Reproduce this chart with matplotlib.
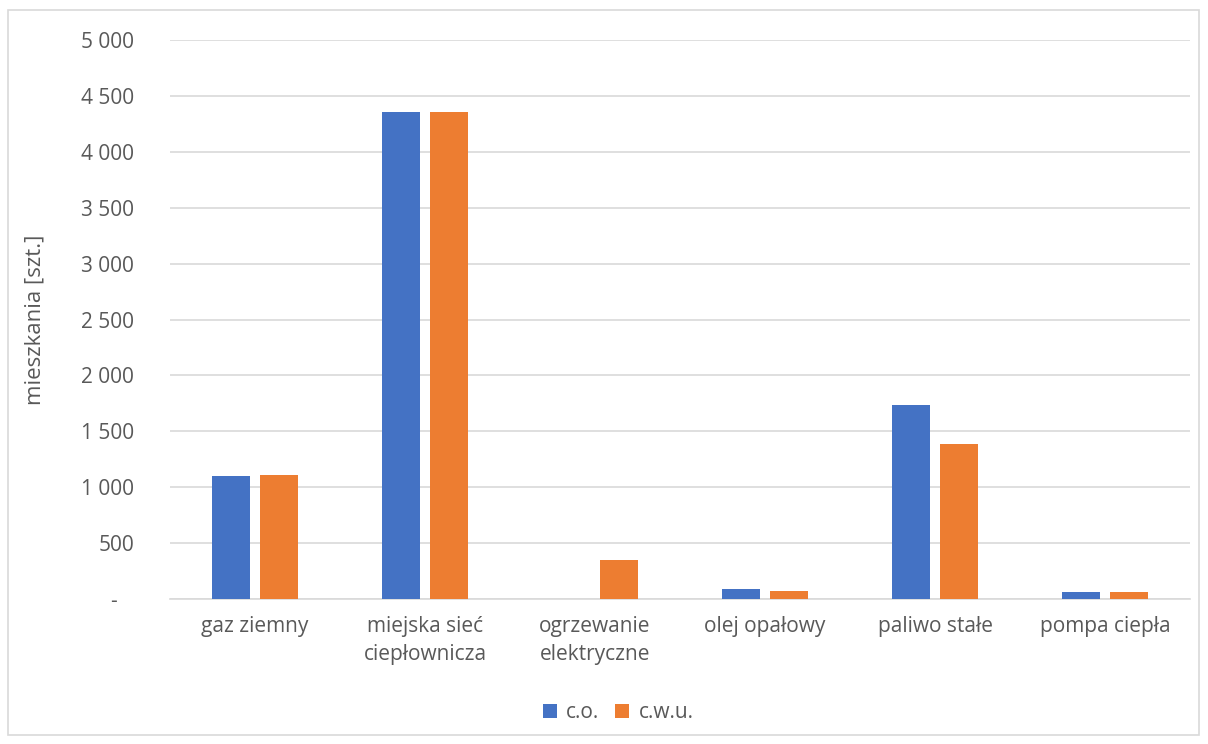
import numpy as np
import matplotlib
matplotlib.use("Agg")
import matplotlib.pyplot as plt
from matplotlib.patches import Rectangle
from matplotlib.ticker import FuncFormatter

categories = ["gaz ziemny", "miejska sieć\nciepłownicza", "ogrzewanie\nelektryczne",
              "olej opałowy", "paliwo stałe", "pompa ciepła"]
co_values = [1102, 4358, 0, 85, 1732, 62]
cwu_values = [1105, 4360, 350, 76, 1383, 62]
y_ticks = [0, 500, 1000, 1500, 2000, 2500, 3000, 3500, 4000, 4500, 5000]

plt.rcParams["font.family"] = ["Open Sans", "DejaVu Sans"]
text_color = "#595959"

fig = plt.figure(figsize=(12.08, 7.44), dpi=100)
ax = fig.add_axes([170 / 1208, 1 - 599 / 744, 1020 / 1208, 559 / 744])

x = np.arange(len(categories))
w = 0.2235
off = 0.1426
ax.bar(x - off, co_values, w, color="#4472C4", label="c.o.", zorder=3)
ax.bar(x + off, cwu_values, w, color="#ED7D31", label="c.w.u.", zorder=3)

ax.set_xlim(-0.5, len(categories) - 0.5)
ax.set_ylim(0, 5000)
ax.set_yticks(y_ticks)


def fmt(v, pos):
    if v == 0:
        return "-   "
    return f"{int(v):,}".replace(",", " ")


ax.yaxis.set_major_formatter(FuncFormatter(fmt))
ax.set_xticks(x)
ax.set_xticklabels(categories)
ax.tick_params(axis="both", length=0, colors=text_color, labelsize=15)
ax.tick_params(axis="y", pad=26)
ax.tick_params(axis="x", pad=12)
for lab in ax.get_xticklabels():
    lab.set_linespacing(1.45)

ax.grid(axis="y", color="#D9D9D9", linewidth=1.2, zorder=0)
for s in ["top", "right", "left"]:
    ax.spines[s].set_visible(False)
ax.spines["bottom"].set_color("#D9D9D9")
ax.spines["bottom"].set_linewidth(1.2)

ax.set_ylabel("mieszkania [szt.]", fontsize=16, color=text_color)
ax.yaxis.set_label_coords(-124 / 1020, 0.5)

fig.legend(loc="center", bbox_to_anchor=(618 / 1208, 1 - 713 / 744), ncol=2,
           frameon=False, fontsize=15, labelcolor=text_color, handlelength=0.68,
           handleheight=0.68, handletextpad=0.45, columnspacing=0.75)

fig.patches.append(Rectangle((8 / 1208, 1 - 735 / 744), 1191 / 1208, 725 / 744,
                             transform=fig.transFigure, fill=False,
                             edgecolor="#D9D9D9", linewidth=1.2))

fig.savefig("out.png", dpi=100, facecolor="white")
